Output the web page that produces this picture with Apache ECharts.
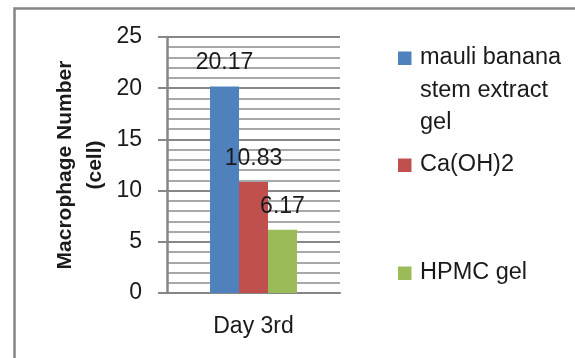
<!DOCTYPE html>
<html>
<head>
<meta charset="utf-8">
<script src="https://cdn.jsdelivr.net/npm/echarts@6/dist/echarts.min.js"></script>
<style>html,body{margin:0;padding:0;background:#fff}#c{width:575px;height:358px}</style>
</head>
<body>
<div id="c"></div>
<script>
var categories = ['Day 3rd'];
var seriesNames = ['mauli banana\nstem extract\ngel', 'Ca(OH)2', 'HPMC gel'];
var seriesColors = ['#4f81bd', '#c0504d', '#9bbb59'];
var banana = [20.17];
var caoh = [10.83];
var hpmc = [6.17];
var seriesValues = [banana, caoh, hpmc];
var yTitle = 'Macrophage Number\n(cell)';
var legendY = [58, 165, 273];

var FONT = 'Liberation Sans';
var chart = echarts.init(document.getElementById('c'), null, {renderer: 'canvas'});

var series = seriesValues.map(function (vals, i) {
  return {
    name: seriesNames[i],
    type: 'bar',
    data: vals,
    barWidth: 29,
    barGap: '0%',
    itemStyle: {color: seriesColors[i]},
    label: {
      show: true, position: 'top', distance: 12,
      color: '#1a1a1a', fontFamily: FONT, fontSize: 23,
      formatter: function (p) { return p.value.toFixed(2); }
    }
  };
});

var graphics = [{
  type: 'rect', silent: true, z: -1,
  shape: {x: 14.5, y: 8.5, width: 700, height: 500},
  style: {fill: 'none', stroke: '#868686', lineWidth: 2.5}
}];
seriesNames.forEach(function (n, i) {
  graphics.push({
    type: 'rect', shape: {x: 398, y: legendY[i] - 6.5, width: 13.5, height: 13.5},
    style: {fill: seriesColors[i]}
  });
  graphics.push({
    type: 'text', x: 420, y: legendY[i] - 16.5,
    style: {text: n, fontFamily: FONT, fontSize: 23.5, lineHeight: 32.5, fill: '#1a1a1a',
      verticalAlign: 'top', align: 'left'}
  });
});

chart.setOption({
  animation: false,
  backgroundColor: '#fff',
  grid: {left: 167, right: 235, top: 37, bottom: 65, containLabel: false},
  xAxis: {
    type: 'category', data: categories,
    axisLine: {show: true, lineStyle: {color: '#868686', width: 2}},
    axisTick: {show: false},
    axisLabel: {color: '#1a1a1a', fontFamily: FONT, fontSize: 23, margin: 22}
  },
  yAxis: {
    type: 'value', min: 0, max: 25, interval: 5,
    name: yTitle, nameLocation: 'middle', nameRotate: 90, nameGap: 57,
    nameTextStyle: {fontFamily: FONT, fontSize: 21, fontWeight: 'bold', color: '#1a1a1a', lineHeight: 30},
    axisLine: {show: true, lineStyle: {color: '#868686', width: 2.5}},
    axisTick: {show: true, length: 9, lineStyle: {color: '#868686', width: 2}},
    axisLabel: {color: '#1a1a1a', fontFamily: FONT, fontSize: 23, margin: 25},
    splitLine: {show: true, lineStyle: {color: '#878787', width: 2}},
    minorTick: {show: false, splitNumber: 5},
    minorSplitLine: {show: true, lineStyle: {color: '#a8a8a8', width: 2}}
  },
  series: series,
  graphic: graphics
});
</script>
</body>
</html>
